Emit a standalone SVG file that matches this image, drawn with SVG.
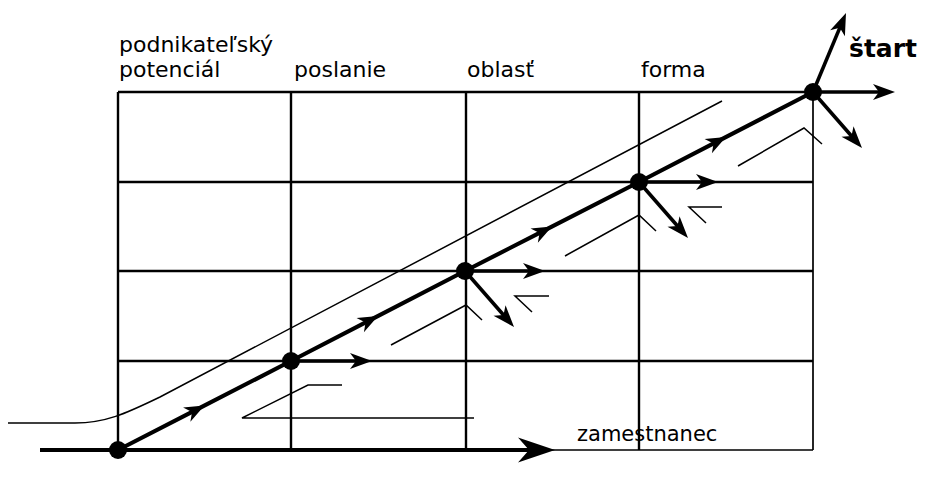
<svg xmlns="http://www.w3.org/2000/svg" width="925" height="479" viewBox="0 0 925 479">
<style>
text{font-family:"DejaVu Sans","Verdana",sans-serif;font-size:22px;fill:#000}
.b{font-weight:bold;font-size:25px}
.s{font-size:21px}
.grid{stroke:#000;stroke-width:2.4;fill:none}
.gthin{stroke:#000;stroke-width:1.7;fill:none}
.thin{stroke:#000;stroke-width:1.5;fill:none}
.main{stroke:#000;stroke-width:4.2;fill:none}
.arr{stroke:#000;stroke-width:3.6;fill:none}
.dot{fill:#000}
</style>
<defs>
<marker id="hs" markerUnits="userSpaceOnUse" viewBox="-14 -10 28 20" refX="0" refY="0" markerWidth="28" markerHeight="20" orient="auto" overflow="visible">
<path d="M9,0 L-11,-8 L-5,0 L-11,8 Z" fill="#000"/>
</marker>
<marker id="hm" markerUnits="userSpaceOnUse" viewBox="-12 -10 30 20" refX="0" refY="0" markerWidth="30" markerHeight="20" orient="auto" overflow="visible">
<path d="M14,0 L-8,-8 L-2,0 L-8,8 Z" fill="#000"/>
</marker>
<marker id="hl" markerUnits="userSpaceOnUse" viewBox="-20 -14 44 28" refX="0" refY="0" markerWidth="44" markerHeight="28" orient="auto" overflow="visible">
<path d="M20,0 L-17,-12.5 L-6,0 L-17,12.5 Z" fill="#000"/>
</marker>
</defs>

<g id="grid">
<path class="grid" d="M118,92 H813 M118,182 H813 M118,271 H813 M118,361 H813"/>
<path class="grid" d="M118,92 V450 M291,92 V450 M466,92 V450 M639,92 V450"/>
<path class="gthin" d="M813,92 V450 M520,450 H813"/>
</g>

<g id="labels">
<text x="119" y="52">podnikateľský</text>
<text x="119" y="77">potenciál</text>
<text x="294" y="77">poslanie</text>
<text x="467" y="77">oblasť</text>
<text x="641" y="77">forma</text>
<text class="b" x="849" y="57">štart</text>
<text class="s" x="577" y="441">zamestnanec</text>
</g>

<g id="connectors">
<path class="thin" d="M8,423 H75 C105,423 125,414 160,397 L722,101"/>
<path class="thin" d="M474,418 H242 L308,385 H342"/>
<path class="thin" d="M391,345 L466,305 L482,320 M549,296 H515 L532,312"/>
<path class="thin" d="M565,256 L639,215 L656,231 M722,207 H689 L706,223"/>
<path class="thin" d="M738,166 L804,128 L822,144"/>

<path class="main" d="M40,450 H535" marker-end="url(#hl)"/>

<path class="main" d="M118,450 L196.5,409.6 L291,361" marker-mid="url(#hs)"/>
<path class="main" d="M291,361 L370,320.1 L465,271" marker-mid="url(#hs)"/>
<path class="main" d="M465,271 L544,230.6 L639,182" marker-mid="url(#hs)"/>
<path class="main" d="M639,182 L718,141.1 L813,92" marker-mid="url(#hs)"/>

<path class="arr" d="M291,361 H358" marker-end="url(#hm)"/>
<path class="arr" d="M465,271 H531" marker-end="url(#hm)"/>
<path class="arr" d="M639,182 H704" marker-end="url(#hm)"/>
<path class="arr" d="M813,92 H881" marker-end="url(#hm)"/>

<path class="arr" d="M465,271 L504.8,316.5" marker-end="url(#hm)"/>
<path class="arr" d="M639,182 L678.8,227.5" marker-end="url(#hm)"/>
<path class="arr" d="M813,92 L852.8,137.5" marker-end="url(#hm)"/>
<path class="arr" d="M813,92 L840.6,25.9" marker-end="url(#hm)"/>
</g>

<g id="n1"><circle class="dot" cx="118" cy="450" r="9"/></g>
<g id="n2"><circle class="dot" cx="291" cy="361" r="9"/></g>
<g id="n3"><circle class="dot" cx="465" cy="271" r="9"/></g>
<g id="n4"><circle class="dot" cx="639" cy="182" r="9"/></g>
<g id="n5"><circle class="dot" cx="813" cy="92" r="9"/></g>
</svg>
